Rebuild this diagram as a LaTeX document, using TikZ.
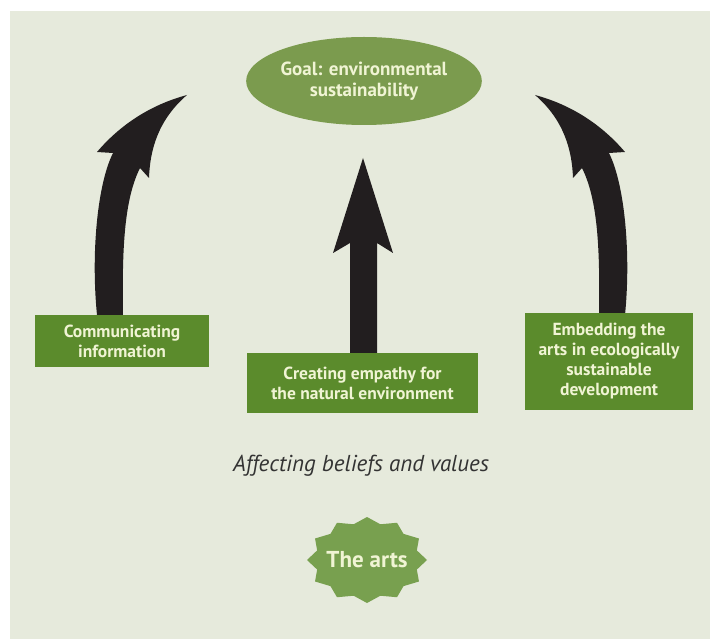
\documentclass[tikz,border=0pt]{standalone}
\usepackage{fontspec}
\setmainfont{PT Sans}
\usetikzlibrary{shapes.geometric}
\definecolor{panel}{HTML}{E6EADC}
\definecolor{boxgreen}{HTML}{5B8B2C}
\definecolor{goalgreen}{HTML}{7B9B4E}
\definecolor{stargreen}{HTML}{78A04F}
\definecolor{cream}{HTML}{F0F4D4}
\definecolor{arrowblack}{HTML}{221E1F}
\definecolor{textgray}{HTML}{333333}
\tikzset{
  boxtext/.style={text=cream, font=\fontsize{17.5}{20}\selectfont\bfseries, align=center, inner sep=0pt},
  greenbox/.style={boxtext, rectangle, fill=boxgreen},
  goalshape/.style={boxtext, font=\fontsize{19}{21}\selectfont\bfseries, ellipse, fill=goalgreen, minimum width=222pt, minimum height=88pt},
  arrowfill/.style={fill=arrowblack},
  sidearrow/.pic={
    \fill[arrowfill] (97,315) -- (123,315)
      .. controls (122,250) and (124,200) .. (140,168)
      -- (149,178)
      .. controls (150,150) and (158,120) .. (187,95)
      .. controls (150,105) and (120,125) .. (97,152)
      -- (113,153)
      .. controls (97,185) and (91,255) .. (97,315) -- cycle;
  }
}
\begin{document}
\begin{tikzpicture}[x=1pt,y=-1pt]
\useasboundingbox (0,0) rectangle (710,639);
\fill[white] (0,0) rectangle (710,639);
\fill[panel] (10,11) rectangle (710,639);

% arrows
\pic at (0,0) {sidearrow};
\pic[xscale=-1] at (722,0) {sidearrow};
\fill[arrowfill] (350,353) -- (350,243) -- (333,253) -- (363,158) -- (393,253) -- (377,243) -- (377,353) -- cycle;

% goal
\node[goalshape] (goal) at (364,81) {Goal: environmental\\sustainability};

% boxes
\node[greenbox, minimum width=174pt, minimum height=52pt] (comm) at (122,341) {Communicating\\information};
\node[greenbox, minimum width=231pt, minimum height=60pt] (empathy) at (362.5,383) {Creating empathy for\\the natural environment};
\node[greenbox, minimum width=168pt, minimum height=97pt] (embed) at (609,361.5) {Embedding the\\arts in ecologically\\sustainable\\development};

% caption
\node[text=textgray, font=\fontsize{23}{26}\selectfont\itshape, inner sep=0pt] (affect) at (361,466) {Affecting beliefs and values};

% the arts star
\fill[stargreen] (427,560) \foreach \a [evaluate=\a as \r using {mod(\a,30)==0 ? 1 : 0.86}] in {15,30,...,345} { -- ({367+60*\r*cos(\a)},{560+43*\r*sin(\a)}) } -- cycle;
\node[boxtext, font=\fontsize{23}{26}\selectfont\bfseries] (arts) at (367,560) {The arts};
\end{tikzpicture}
\end{document}
